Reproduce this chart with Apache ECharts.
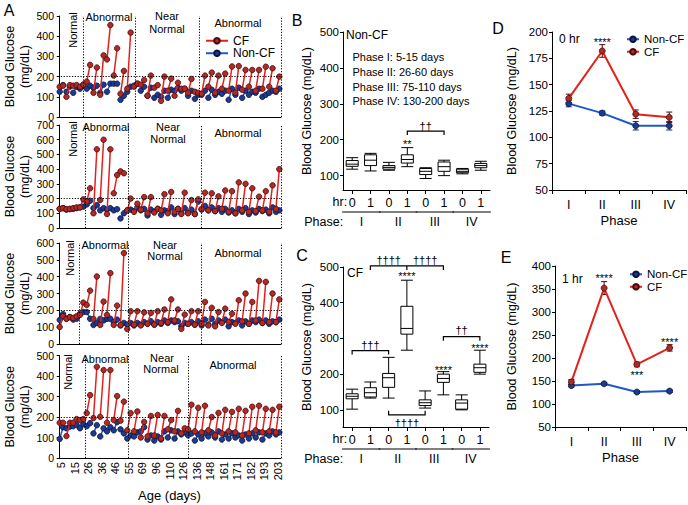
<!DOCTYPE html>
<html><head><meta charset="utf-8">
<script src="https://cdn.jsdelivr.net/npm/echarts@6/dist/echarts.min.js"></script>
<style>html,body{margin:0;padding:0;background:#fff}#c{width:688px;height:505px}</style>
</head><body><div id="c"></div>
<script>
// ---------------- DATA ----------------
const days = [5,10,15,20,26,31,36,41,46,51,55,62,69,82,96,103,110,117,126,131,136,142,148,155,161,166,171,177,182,188,193,198,203];
const dayTicks = days.filter((d,i)=>i%2===0);

// Panel A, subplot 1..4: CF 0 hr / 1 hr, Non-CF 0 hr / 1 hr (mg/dL)
const a1Cf0  = [150,100,155,150,175,120,110,285,205,115,140,150,160,105,145,80,130,105,140,120,125,115,150,120,140,130,120,135,150,130,140,150,130];
const a1Cf1  = [155,158,158,160,258,245,305,455,340,228,418,165,183,205,158,200,190,170,140,188,120,205,220,205,215,250,252,233,233,233,249,241,200];
const a1Non0 = [125,125,120,140,140,145,120,125,165,85,125,155,130,105,95,100,95,130,130,105,90,110,95,110,115,85,110,95,110,120,100,120,125];
const a1Non1 = [158,150,150,160,155,155,160,165,165,105,150,165,150,145,110,130,135,145,140,130,110,130,135,125,130,140,145,130,125,140,110,130,140];

const a2Cf0  = [130,128,135,140,180,100,190,95,236,385,120,110,125,100,105,120,100,110,95,100,95,130,120,115,130,110,100,120,110,115,120,110,130];
const a2Cf1  = [135,130,140,195,270,535,600,535,360,372,200,165,210,210,130,230,245,130,240,190,195,240,236,215,255,250,310,300,270,213,250,290,400];
const a2Non0 = [130,125,130,140,160,135,120,125,120,65,120,115,120,85,110,90,115,95,100,105,95,125,120,115,110,105,100,110,95,105,115,100,110];
const a2Non1 = [135,128,135,145,185,155,135,135,128,100,125,140,130,125,130,120,140,130,135,125,180,150,140,135,130,120,130,135,120,130,125,140,120];

const a3Cf0  = [101,150,155,173,232,149,113,173,113,113,89,115,110,120,115,125,130,140,90,120,115,120,110,105,125,130,120,135,120,140,125,130,130];
const a3Cf1  = [165,160,165,246,317,401,252,421,228,540,195,195,188,185,195,205,265,205,175,195,195,250,215,190,210,180,260,300,250,375,369,300,265];
const a3Non0 = [143,150,145,180,190,113,149,149,130,110,115,110,115,120,115,120,125,130,105,120,115,110,115,120,130,105,125,110,120,130,125,120,130];
const a3Non1 = [178,160,150,190,150,125,140,150,145,125,125,125,130,135,130,140,140,135,125,130,135,145,150,140,145,130,140,135,140,145,140,135,145];

const a4Cf0  = [172,107,172,185,219,195,201,172,185,182,135,130,100,105,110,95,140,130,120,140,130,125,135,110,120,130,125,110,120,135,125,130,125];
const a4Cf1  = [172,172,190,190,307,445,429,429,302,275,219,227,176,205,210,205,185,230,145,260,245,255,200,220,235,225,240,230,250,255,240,235,250];
const a4Non0 = [93,145,155,145,155,120,105,130,135,140,95,105,130,90,85,90,100,95,115,110,85,95,105,100,90,95,100,85,95,100,90,110,115];
const a4Non1 = [150,153,161,165,170,160,145,150,175,120,110,125,150,110,105,130,135,130,125,120,115,120,125,130,115,120,110,115,120,125,120,130,125];

const aMax = [500,700,600,500];
// phase boundaries (in point-position units along the age axis)
const aBounds = [[6.9,22.3,41.2],[7.5,20.2,41.8],[5.7,20.2,41.8],[7.5,20.2,38]];
const threshold = 200;

// Panels B / C boxplots [min, Q1, median, Q3, max]
const hrLabels = ['0','1','0','1','0','1','0','1'];
const phaseNames = ['I','II','III','IV'];
const boxNonCF = [[118,126,132,142,150],[113,128,143,158,162],[115,118,123,128,137],[125,135,145,158,178],[92,103,112,120,122],[100,112,125,138,143],[105,108,112,118,120],[115,122,128,134,140]];
const boxCF    = [[102,131,138,145,158],[133,136,148,162,178],[133,163,190,202,247],[267,312,328,390,463],[105,112,120,128,153],[142,177,188,200,207],[100,102,119,128,142],[200,205,218,228,267]];
const phaseInfo = ['Phase I: 5-15 days','Phase II: 26-60 days','Phase III: 75-110 days','Phase IV: 130-200 days'];

// Panels D / E means and SEM
const dNon = [132,123,111,111], dNonErr = [3,2,4,4];
const dCf  = [137,182,122,119], dCfErr  = [4,6,4,5];
const eNon = [140,144,126,128], eNonErr = [3,3,3,3];
const eCf  = [148,352,186,222], eCfErr  = [5,14,5,7];

// ---------------- STYLE ----------------
const FONT = '"Liberation Sans", Arial, sans-serif';
const RED_LINE='#e3211c', RED_DOT='#b02a26', RED_EDGE='#4a0808';
const BLUE_LINE='#1f58c6', BLUE_DOT='#1d3a8e', BLUE_EDGE='#0a1440';
const axLine = {show:true, lineStyle:{color:'#000', width:1}};
const axTick = {show:true, length:3, lineStyle:{color:'#000', width:1}};

const aCf0=[a1Cf0,a2Cf0,a3Cf0,a4Cf0], aCf1=[a1Cf1,a2Cf1,a3Cf1,a4Cf1];
const aNon0=[a1Non0,a2Non0,a3Non0,a4Non0], aNon1=[a1Non1,a2Non1,a3Non1,a4Non1];
function pairData(v0, v1){ const out=[]; for(let i=0;i<v0.length;i++){ out.push([2*i, v0[i]],[2*i+1, v1[i]],[2*i+1.5,'-']); } return out; }
const nPos = days.length*2;

const grids = [
  {left:58, top:16, width:223, height:101},
  {left:58, top:125, width:223, height:103},
  {left:58, top:243, width:223, height:101},
  {left:58, top:355.5, width:223, height:102.5},
  {left:343, top:32, width:147, height:158},
  {left:343, top:267, width:146, height:160},
  {left:552, top:32, width:134, height:158},
  {left:555, top:266, width:131, height:161}
];

const xAxes = [], yAxes = [], series = [];
for (let k=0;k<4;k++){
  xAxes.push({type:'value', gridIndex:k, min:-0.5, max:nPos-0.5, axisLine:axLine, axisTick:{show:false}, splitLine:{show:false},
    axisLabel: k===3 ? {show:true, rotate:90, fontSize:11, margin:4, color:'#000', fontFamily:FONT,
      customValues: dayTicks.map((d,j)=>4*j+0.5), formatter:(v)=>String(days[Math.round((v-0.5)/2)])} : {show:false},
    name: k===3 ? 'Age (days)' : '', nameLocation:'middle', nameGap:31, nameTextStyle:{fontSize:13, color:'#000', fontFamily:FONT}});
  yAxes.push({type:'value', gridIndex:k, min:0, max:aMax[k], interval:100, axisLine:axLine, axisTick:axTick, splitLine:{show:false},
    axisLabel:{fontSize:10.5, margin:4, color:'#000', fontFamily:FONT},
    name:'Blood Glucose\n(mg/dL)', nameLocation:'middle', nameRotate:90, nameGap:26,
    nameTextStyle:{fontSize:12.5, lineHeight:15, color:'#000', fontFamily:FONT}});
  series.push({type:'line', name:'Non-CF', xAxisIndex:k, yAxisIndex:k, data:pairData(aNon0[k], aNon1[k]),
    symbol:'circle', symbolSize:5.5, showAllSymbol:true, connectNulls:false, z:2,
    lineStyle:{color:BLUE_LINE, width:1.5}, itemStyle:{color:BLUE_DOT, borderColor:BLUE_EDGE, borderWidth:0.8}});
  series.push({type:'line', name:'CF', xAxisIndex:k, yAxisIndex:k, data:pairData(aCf0[k], aCf1[k]),
    symbol:'circle', symbolSize:5.5, showAllSymbol:true, connectNulls:false, z:3,
    lineStyle:{color:RED_LINE, width:1.5}, itemStyle:{color:RED_DOT, borderColor:RED_EDGE, borderWidth:0.8},
    markLine:{silent:true, symbol:['none','none'], label:{show:false}, animation:false,
      lineStyle:{color:'#000', type:[1.2,1.6], width:1},
      data:[{yAxis:threshold}].concat(aBounds[k].map(v=>({xAxis:v}))).concat([{xAxis:nPos-0.5}])}});
}

// B & C
[[4,60,boxNonCF],[5,52,boxCF]].forEach(([g,ymin,box])=>{
  xAxes.push({type:'category', gridIndex:g, data:hrLabels, axisLine:axLine,
    axisTick:{show:true, alignWithLabel:true, length:4, lineStyle:{color:'#000'}},
    axisLabel:{fontSize:12.5, margin:6, color:'#000', fontFamily:FONT}});
  yAxes.push({type:'value', gridIndex:g, min:ymin, max:500, axisLine:axLine, splitLine:{show:false},
    axisTick:{show:true, length:3, lineStyle:{color:'#000'}, customValues:[100,200,300,400,500]},
    axisLabel:{fontSize:11.5, margin:4, color:'#000', fontFamily:FONT, customValues:[100,200,300,400,500]},
    name:'Blood Glucose (mg/dL)', nameLocation:'middle', nameRotate:90, nameGap:30,
    nameTextStyle:{fontSize:12.5, color:'#000', fontFamily:FONT}});
  series.push({type:'boxplot', xAxisIndex:g, yAxisIndex:g, data:box, boxWidth:[12,12],
    itemStyle:{color:'#fff', borderColor:'#000', borderWidth:1}, silent:true});
  series.push(phaseSeries(g, ymin));
});

// D & E
[[6,50,200,25,dNon,dNonErr,dCf,dCfErr,8],[7,50,400,50,eNon,eNonErr,eCf,eCfErr,8]].forEach(([g,mn,mx,iv,nv,ne,cv,ce,lm])=>{
  xAxes.push({type:'category', gridIndex:g, data:phaseNames, axisLine:axLine,
    axisTick:{show:true, length:4, lineStyle:{color:'#000'}},
    axisLabel:{fontSize:12.5, margin:lm, color:'#000', fontFamily:FONT},
    name:'Phase', nameLocation:'middle', nameGap:24, nameTextStyle:{fontSize:13, color:'#000', fontFamily:FONT}});
  yAxes.push({type:'value', gridIndex:g, min:mn, max:mx, interval:iv, axisLine:axLine, axisTick:axTick, splitLine:{show:false},
    axisLabel:{fontSize:11.5, margin:4, color:'#000', fontFamily:FONT},
    name:'Blood Glucose (mg/dL)', nameLocation:'middle', nameRotate:90, nameGap: g===6?34:37,
    nameTextStyle:{fontSize:12.5, color:'#000', fontFamily:FONT}});
  series.push(errSeries(g, nv, ne, '#1a2a60'));
  series.push(errSeries(g, cv, ce, '#4a0c0c'));
  series.push({type:'line', name:'Non-CF', xAxisIndex:g, yAxisIndex:g, data:nv, symbol:'circle', symbolSize:6, z:3,
    lineStyle:{color:BLUE_LINE, width:2}, itemStyle:{color:BLUE_DOT, borderColor:BLUE_EDGE, borderWidth:0.8}});
  series.push({type:'line', name:'CF', xAxisIndex:g, yAxisIndex:g, data:cv, symbol:'circle', symbolSize:6, z:3,
    lineStyle:{color:RED_LINE, width:2}, itemStyle:{color:RED_DOT, borderColor:RED_EDGE, borderWidth:0.8}});
});

// annotations (brackets / significance marks) placed in data coordinates
const annB = [
  {kind:'text', x:3, y:197, text:'**'},
  {kind:'bracket', x1:3, x2:5, y:224, tick:4},
  {kind:'text', x:4, y:238, text:'††'}
];
const annC = [
  {kind:'bracket', x1:1, x2:5, y:503, tick:4, mids:[3]},
  {kind:'text', x:2, y:519, text:'††††'},
  {kind:'text', x:4, y:519, text:'††††'},
  {kind:'text', x:3, y:483, text:'****'},
  {kind:'bracket', x1:0, x2:2, y:266, tick:4},
  {kind:'text', x:1, y:282, text:'†††'},
  {kind:'text', x:5, y:221, text:'****'},
  {kind:'bracket', x1:2, x2:4, y:86, tick:-4},
  {kind:'text', x:3, y:64, text:'††††'},
  {kind:'bracket', x1:5, x2:7, y:305, tick:4},
  {kind:'text', x:6, y:324, text:'††'},
  {kind:'text', x:7, y:282, text:'****'}
];
const annD = [{kind:'text', x:1, y:193, text:'****'}];
const annE = [{kind:'text', x:1, y:380, text:'****'},{kind:'text', x:3, y:241, text:'****'},{kind:'text', x:2, y:169, text:'***'}];
series.push(annoSeries(4, annB), annoSeries(5, annC), annoSeries(6, annD), annoSeries(7, annE));

function annoSeries(g, items){
  return {type:'custom', xAxisIndex:g, yAxisIndex:g, silent:true, clip:false, z:10,
    encode:{x:0, y:1},
    data: items.map(a=>[a.x!=null?a.x:a.x1, a.y]),
    renderItem:(params, api)=>{
      const a = items[params.dataIndex];
      if (a.kind==='text'){
        const p = api.coord([a.x, a.y]);
        const dy = a.text.indexOf('*')>=0 ? 3 : 0;
        return {type:'text', x:p[0], y:p[1]+dy, style:{text:a.text, textAlign:'center', textVerticalAlign:'middle', fontSize:11, fontFamily:FONT, fill:'#000'}};
      }
      const p1 = api.coord([a.x1, a.y]), p2 = api.coord([a.x2, a.y]), t = a.tick;
      const ch = [{type:'polyline', shape:{points:[[p1[0],p1[1]+t],[p1[0],p1[1]],[p2[0],p2[1]],[p2[0],p2[1]+t]]}, style:{stroke:'#000', fill:null, lineWidth:1.2}}];
      (a.mids||[]).forEach(m=>{ const q = api.coord([m, a.y]); ch.push({type:'line', shape:{x1:q[0],y1:q[1],x2:q[0],y2:q[1]+t}, style:{stroke:'#000', lineWidth:1.2}}); });
      return {type:'group', children:ch};
    }};
}
function errSeries(g, means, errs, color){
  return {type:'custom', xAxisIndex:g, yAxisIndex:g, silent:true, z:2, encode:{x:0, y:1},
    data: means.map((m,i)=>[i, m, errs[i]]),
    renderItem:(params, api)=>{
      const x=api.value(0), m=api.value(1), e=api.value(2);
      const t=api.coord([x, m+e]), b=api.coord([x, m-e]), w=3;
      const st={stroke:color, lineWidth:1};
      return {type:'group', children:[
        {type:'line', shape:{x1:t[0],y1:t[1],x2:b[0],y2:b[1]}, style:st},
        {type:'line', shape:{x1:t[0]-w,y1:t[1],x2:t[0]+w,y2:t[1]}, style:st},
        {type:'line', shape:{x1:b[0]-w,y1:b[1],x2:b[0]+w,y2:b[1]}, style:st}]};
    }};
}
function phaseSeries(g, ymin){
  return {type:'custom', xAxisIndex:g, yAxisIndex:g, silent:true, clip:false, z:10, encode:{x:0, y:1},
    data: phaseNames.map((n,k)=>[2*k, ymin]),
    renderItem:(params, api)=>{
      const k=params.dataIndex;
      const a=api.coord([2*k, ymin]), b=api.coord([2*k+1, ymin]), yb=a[1];
      const ts={fontSize:12.5, fontFamily:FONT, fill:'#000', textVerticalAlign:'middle'};
      const ch=[{type:'line', shape:{x1:a[0]-10, y1:yb+22, x2:b[0]+10, y2:yb+22}, style:{stroke:'#000', lineWidth:1}},
        {type:'text', x:(a[0]+b[0])/2, y:yb+32, style:Object.assign({text:phaseNames[k], textAlign:'center'}, ts)}];
      if(k===0){
        ch.push({type:'text', x:a[0]-5, y:yb+11.5, style:Object.assign({text:'hr:', textAlign:'right'}, ts)});
        ch.push({type:'text', x:a[0]-9, y:yb+32, style:Object.assign({text:'Phase:', textAlign:'right'}, ts)});
      }
      return {type:'group', children:ch};
    }};
}

function txt(x, y, text, size, align, rot){
  return {type:'text', x:x, y:y, rotation:rot||0, silent:true,
    style:{text:text, fontSize:size, fontFamily:FONT, fill:'#000', textAlign:align||'center', textVerticalAlign:'middle'}};
}
const R = Math.PI/2;
const graphic = [
  txt(9,10,'A',16), txt(297,20,'B',16), txt(302,255,'C',16), txt(498,28,'D',16), txt(506,257,'E',16),
  // panel A region labels
  txt(72.5,30,'Normal',11,'center',R), txt(109,17,'Abnormal',11), txt(167,16,'Near',11), txt(167,28.5,'Normal',11), txt(238,22.7,'Abnormal',11),
  txt(72.5,139,'Normal',11,'center',R), txt(106,126.7,'Abnormal',11), txt(168,127,'Near',11), txt(168,139.3,'Normal',11), txt(238,133.3,'Abnormal',11),
  txt(70,258,'Normal',11,'center',R), txt(105,245,'Abnormal',11), txt(165,245,'Near',11), txt(165,256,'Normal',11), txt(238,253,'Abnormal',11),
  txt(68,372,'Normal',11,'center',R), txt(105,358.5,'Abnormal',11), txt(162,357.5,'Near',11), txt(161,368.5,'Normal',11), txt(233,365,'Abnormal',11),
  // panel B/C/D/E labels
  txt(346,34.5,'Non-CF',12,'left'),
  txt(352.5,57.3,phaseInfo[0],11,'left'), txt(352.5,71.8,phaseInfo[1],11,'left'),
  txt(352.5,86.5,phaseInfo[2],11,'left'), txt(352.5,100.8,phaseInfo[3],11,'left'),
  txt(347,272.5,'CF',12,'left'),
  txt(559,38.5,'0 hr',12,'left'),
  txt(562,278.5,'1 hr',12,'left')
];

const legendBase = {orient:'vertical', itemGap:0, padding:0, textStyle:{fontSize:11.5, lineHeight:12.5, color:'#000', fontFamily:FONT}, selectedMode:false, itemHeight:7};
const option = {
  animation:false,
  textStyle:{fontFamily:FONT, color:'#000'},
  grid:grids, xAxis:xAxes, yAxis:yAxes, series:series, graphic:graphic,
  legend:[
    Object.assign({}, legendBase, {data:['CF','Non-CF'], left:205, top:34.5, itemWidth:22, textStyle:Object.assign({}, legendBase.textStyle, {fontSize:12})}),
    Object.assign({}, legendBase, {data:['Non-CF','CF'], left:626, top:33, itemWidth:12}),
    Object.assign({}, legendBase, {data:['Non-CF','CF'], left:629, top:268, itemWidth:12})
  ]
};
const chart = echarts.init(document.getElementById('c'), null, {renderer:'svg', width:688, height:505});
chart.setOption(option);
</script>
</body></html>
